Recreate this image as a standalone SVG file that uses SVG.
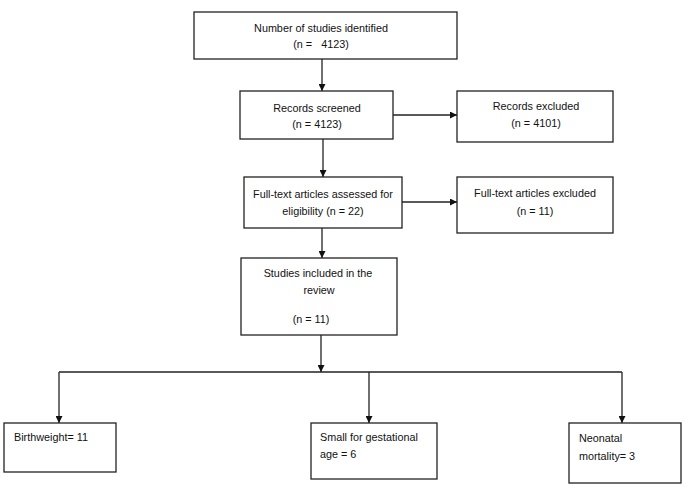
<svg xmlns="http://www.w3.org/2000/svg" width="685" height="494" viewBox="0 0 685 494">
<style>
.box{fill:#fff;stroke:#222;stroke-width:1.3}
.t{font-family:"Liberation Sans",Arial,sans-serif;font-size:10.8px;fill:#111}
.c{text-anchor:middle}
.ln{fill:none;stroke:#222;stroke-width:1.3}
</style>
<defs>
<marker id="ah" viewBox="0 0 10 10" refX="10" refY="5" markerWidth="7" markerHeight="7" markerUnits="userSpaceOnUse" orient="auto">
<path d="M0,0 L10,5 L0,10 Z" fill="#111"/>
</marker>
</defs>
<rect width="685" height="494" fill="#fff"/>
<g id="connectors">
<path class="ln" d="M322,59 V91" marker-end="url(#ah)"/>
<path class="ln" d="M393,115 H457" marker-end="url(#ah)"/>
<path class="ln" d="M323,139 V177" marker-end="url(#ah)"/>
<path class="ln" d="M402,202 H457" marker-end="url(#ah)"/>
<path class="ln" d="M322,228 V258" marker-end="url(#ah)"/>
<path class="ln" d="M321,335 V372" marker-end="url(#ah)"/>
<path class="ln" d="M59,372 H622"/>
<path class="ln" d="M59,372 V423" marker-end="url(#ah)"/>
<path class="ln" d="M369,372 V423" marker-end="url(#ah)"/>
<path class="ln" d="M622,372 V423" marker-end="url(#ah)"/>
</g>
<g id="identified">
<rect class="box" x="194" y="12" width="263" height="47"/>
<text class="t c" x="321" y="32">Number of studies identified</text>
<text class="t c" x="321" y="48" xml:space="preserve">(n =   4123)</text>
</g>
<g id="screened">
<rect class="box" x="240" y="91" width="153" height="48"/>
<text class="t c" x="317" y="112">Records screened</text>
<text class="t c" x="317" y="128">(n = 4123)</text>
</g>
<g id="excluded">
<rect class="box" x="457" y="91" width="156" height="51"/>
<text class="t c" x="536" y="110">Records excluded</text>
<text class="t c" x="536" y="127">(n = 4101)</text>
</g>
<g id="assessed">
<rect class="box" x="244" y="177" width="158" height="51"/>
<text class="t c" x="323" y="198">Full-text articles assessed for</text>
<text class="t c" x="323" y="215">eligibility (n = 22)</text>
</g>
<g id="ft-excluded">
<rect class="box" x="457" y="177" width="156" height="56"/>
<text class="t c" x="535" y="197">Full-text articles excluded</text>
<text class="t c" x="535" y="215">(n = 11)</text>
</g>
<g id="included">
<rect class="box" x="241" y="258" width="156" height="77"/>
<text class="t c" x="318" y="277">Studies included in the</text>
<text class="t c" x="319" y="294">review</text>
<text class="t c" x="311" y="323">(n = 11)</text>
</g>
<g id="birthweight">
<rect class="box" x="4" y="423" width="112" height="49"/>
<text class="t" x="14" y="441">Birthweight= 11</text>
</g>
<g id="sga">
<rect class="box" x="311" y="423" width="126" height="56"/>
<text class="t" x="320" y="441">Small for gestational</text>
<text class="t" x="320" y="458">age = 6</text>
</g>
<g id="neonatal">
<rect class="box" x="569" y="423" width="112" height="60"/>
<text class="t" x="579" y="442">Neonatal</text>
<text class="t" x="579" y="460">mortality= 3</text>
</g>
</svg>
